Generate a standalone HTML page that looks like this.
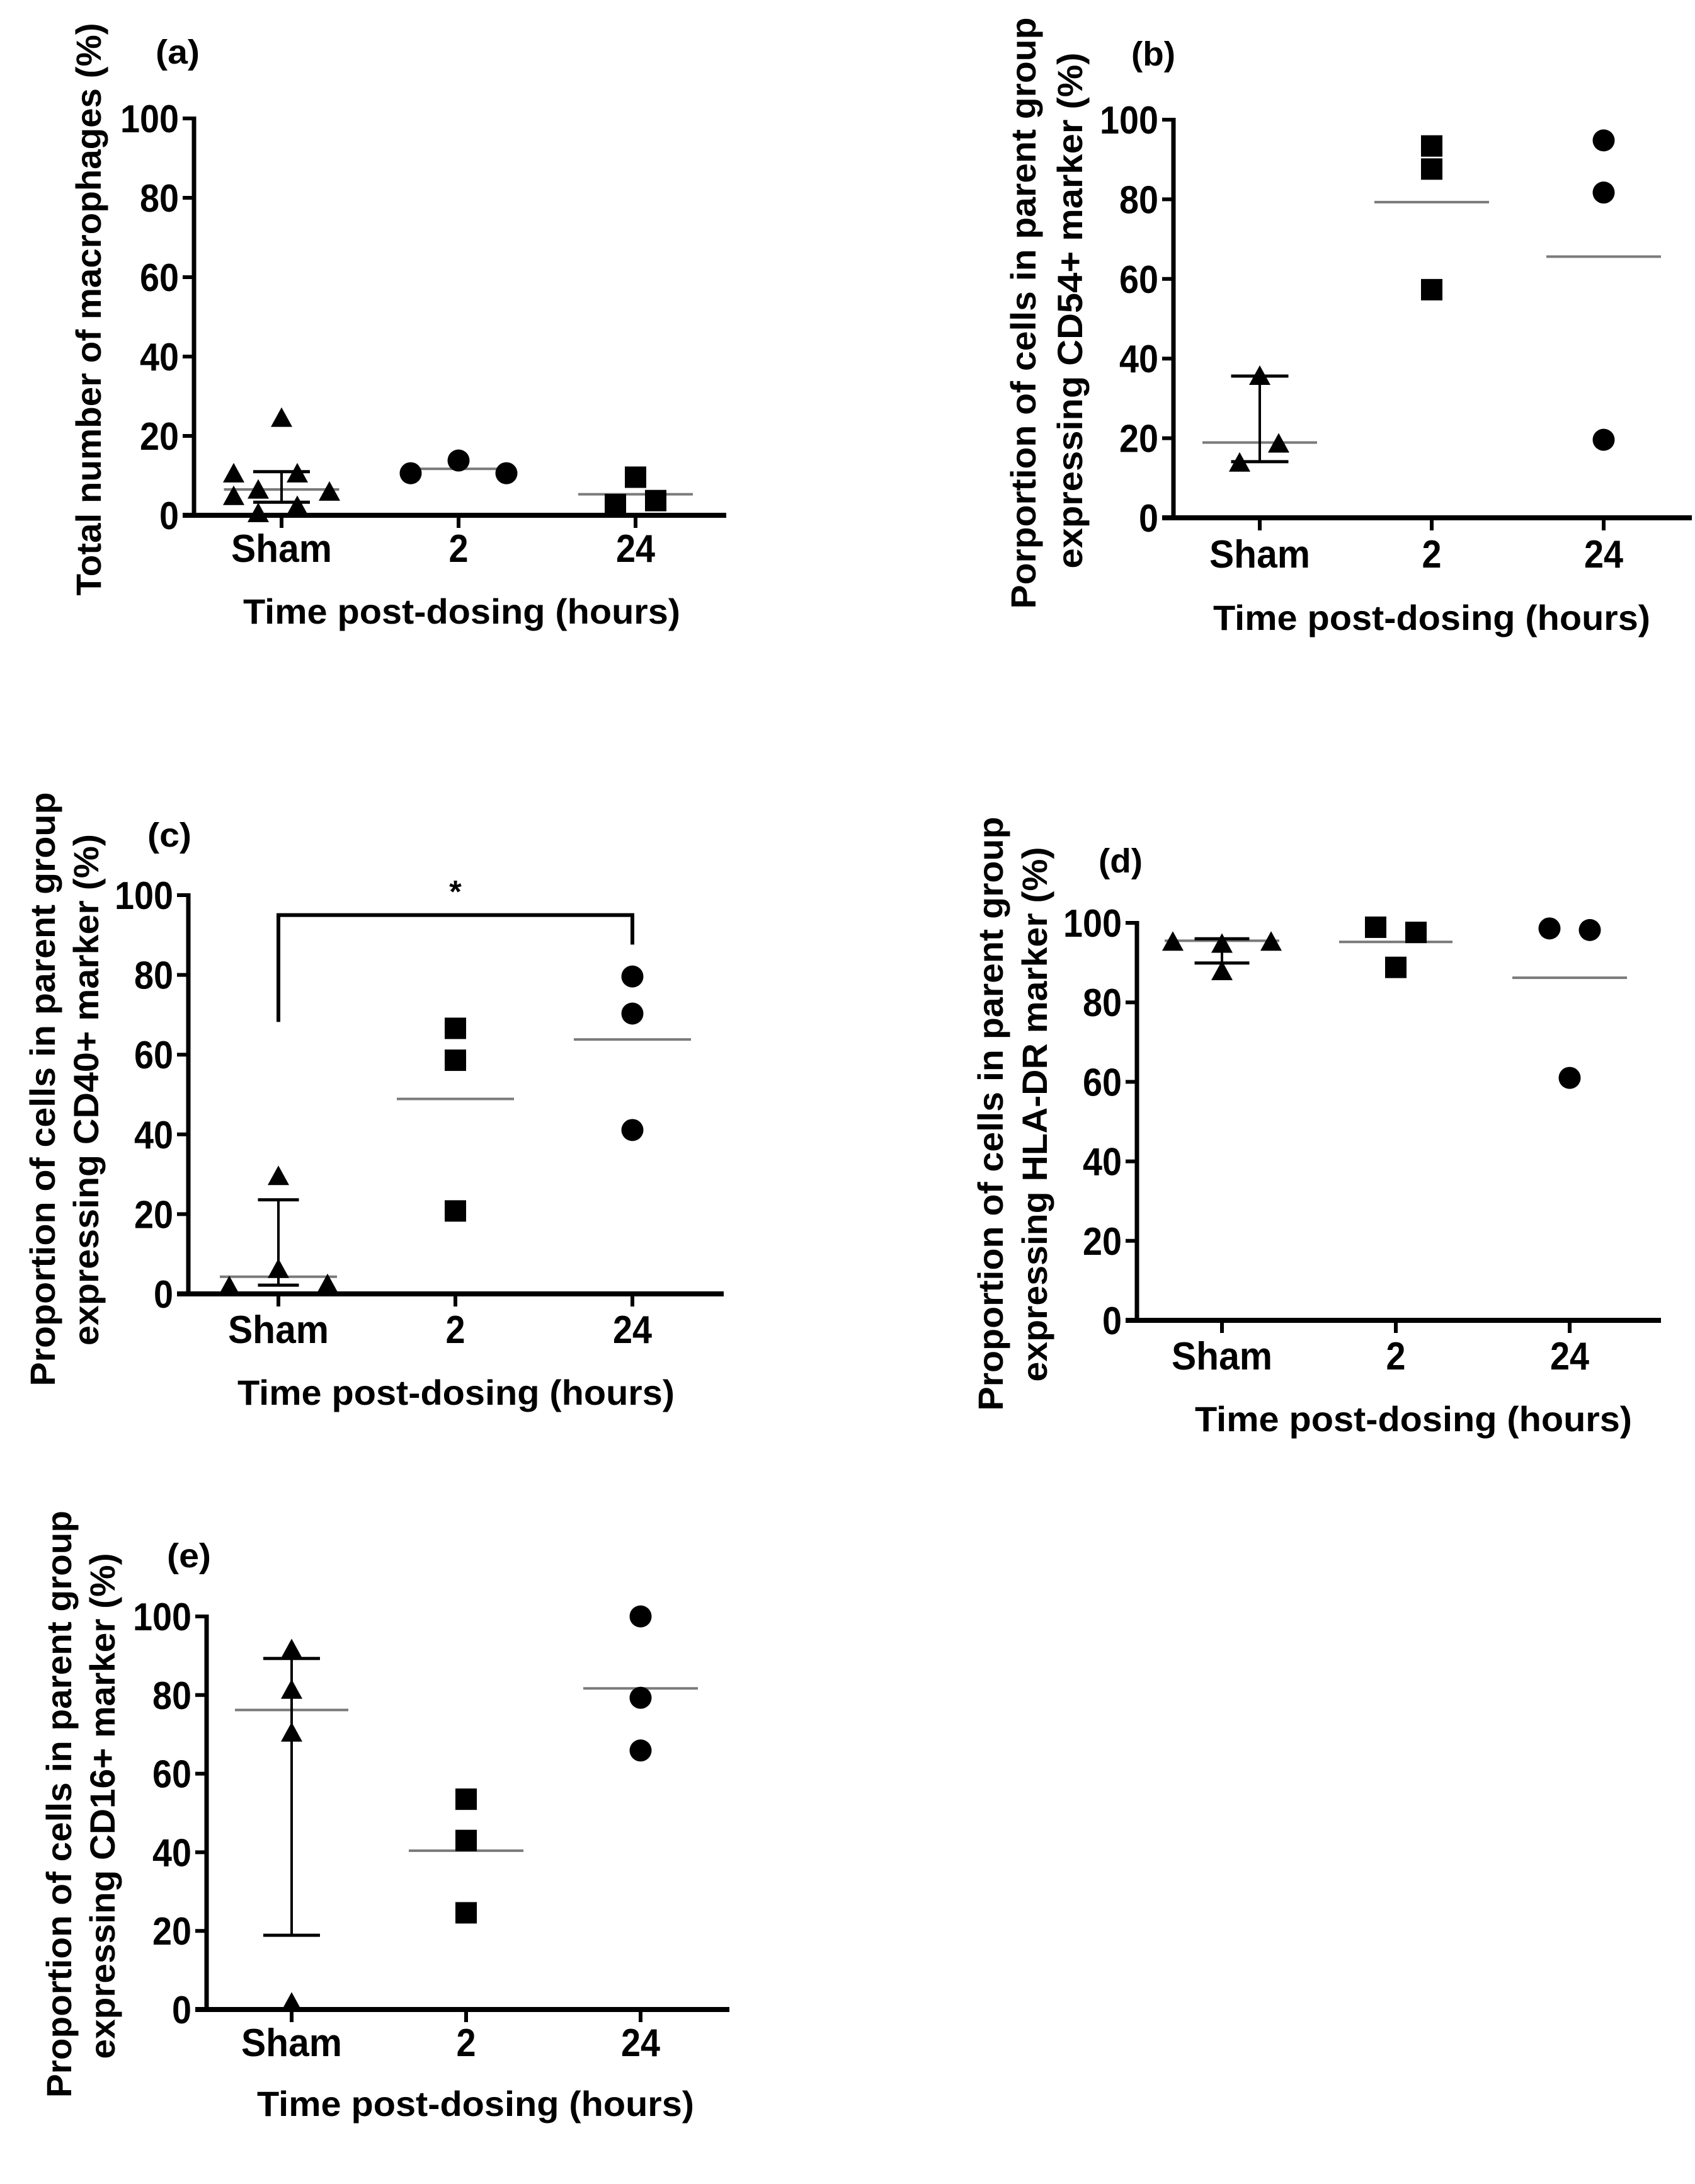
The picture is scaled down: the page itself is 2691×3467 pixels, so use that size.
<!DOCTYPE html>
<html><head><meta charset="utf-8"><style>
html,body{margin:0;padding:0;background:#fff;}
svg{display:block;}
text{font-family:"Liberation Sans",Arial,sans-serif;font-weight:bold;fill:#000;}
</style></head><body>
<svg id="fig" xmlns="http://www.w3.org/2000/svg" width="2691" height="3467" viewBox="0 0 2691 3467">
<rect x="0" y="0" width="2691" height="3467" fill="#fff"/>
</svg>
<script>
// ---- shared axis data ----
const categories = ["Sham", "2", "24"];
const yTicks = [0, 20, 40, 60, 80, 100];
const yTickLabels = ["0", "20", "40", "60", "80", "100"];

// ---- panel (a) ----
const aSham = [10.5, 4.8, 6.4, 0.5, 24.5, 10.5, 2.3, 5.9];
const aShamJitter = [-76, -76, -37, -37, 0, 25, 25, 76];
const a2 = [10.6, 13.8, 10.6];
const a2Jitter = [-76, 0, 76];
const a24 = [2.7, 9.6, 3.7];
const a24Jitter = [-32, 0, 32];
const aCenter = [6.5, 11.7, 5.3];
const aShamErr = [3.3, 11];

// ---- panel (b) ----
const bSham = [35.6, 18.6, 13.8];
const bShamJitter = [0, 30, -32];
const b2 = [93.4, 87.6, 57.3];
const b24 = [94.8, 81.7, 19.6];
const bCenter = [18.9, 79.3, 65.6];
const bShamErr = [14.1, 35.6];

// ---- panel (c) ----
const cSham = [1.9, 29.5, 6.2, 2.4];
const cShamJitter = [-78, 0, 0, 78];
const c2 = [66.6, 58.6, 20.8];
const c24 = [79.6, 70.3, 41.1];
const cCenter = [4.3, 48.9, 63.8];
const cShamErr = [2.2, 23.6];
const cBracket = [95, 68.2, 87.6];

// ---- panel (d) ----
const dSham = [95.2, 94.7, 87.8, 95.2];
const dShamJitter = [-78, 0, 0, 78];
const d2 = [98.9, 97.6, 88.8];
const d2Jitter = [-32, 32, 0];
const d24 = [98.6, 98.2, 61];
const d24Jitter = [-32, 32, 0];
const dCenter = [95.5, 95.2, 86.2];
const dShamErr = [89.9, 96];

// ---- panel (e) ----
const eSham = [91.6, 81.3, 70.4, 1.7];
const e2 = [53.5, 43, 24.6];
const e24 = [100, 79.3, 65.9];
const eCenter = [76.2, 40.4, 81.7];
const eShamErr = [18.9, 89.3];

const NS = "http://www.w3.org/2000/svg";
const svg = document.getElementById("fig");
function mk(tag, attrs, parent) {
  const el = document.createElementNS(NS, tag);
  for (const k in attrs) el.setAttribute(k, attrs[k]);
  (parent || svg).appendChild(el);
  return el;
}
function txt(s, attrs, parent) {
  const t = mk("text", attrs, parent);
  t.textContent = s;
  return t;
}

const panels = [
  {id:"a", letter:"(a)", lx:247, ly:101, ax:308, y0:818, y100:188, xEnd:1153, c0:447, dc:281,
   tickBase:892, xTitleX:386, xTitleBase:990,
   yTitles:[{s:"Total number of macrophages (%)", bx:160, cy:491, len:909}],
   series:[[aSham,aShamJitter,"tri"],[a2,a2Jitter,"circ"],[a24,a24Jitter,"sq"]],
   centers:aCenter, centerW:[183,152,182], err:aShamErr, cap:90},
  {id:"b", letter:"(b)", lx:1796, ly:104, ax:1863, y0:822, y100:190, xEnd:2686, c0:2000, dc:273,
   tickBase:901, xTitleX:1926, xTitleBase:1000,
   yTitles:[{s:"Porportion of cells in parent group", bx:1644, cy:497, len:939},
            {s:"expressing CD54+ marker (%)", bx:1718, cy:493, len:819}],
   series:[[bSham,bShamJitter,"tri"],[b2,null,"sq"],[b24,null,"circ"]],
   centers:bCenter, centerW:[182,182,182], err:bShamErr, cap:91},
  {id:"c", letter:"(c)", lx:234, ly:1344, ax:299, y0:2054, y100:1421, xEnd:1149, c0:442, dc:281,
   tickBase:2132, xTitleX:377, xTitleBase:2230,
   yTitles:[{s:"Proportion of cells in parent group", bx:87, cy:1729, len:943},
            {s:"expressing CD40+ marker (%)", bx:156, cy:1730, len:812}],
   series:[[cSham,cShamJitter,"tri"],[c2,null,"sq"],[c24,null,"circ"]],
   centers:cCenter, centerW:[186,186,186], err:cShamErr, cap:65, bracket:cBracket},
  {id:"d", letter:"(d)", lx:1744, ly:1385, ax:1805, y0:2096, y100:1465, xEnd:2637, c0:1940, dc:276,
   tickBase:2174, xTitleX:1897, xTitleBase:2272,
   yTitles:[{s:"Proportion of cells in parent group", bx:1592, cy:1768, len:943},
            {s:"expressing HLA-DR marker (%)", bx:1662, cy:1769, len:849}],
   series:[[dSham,dShamJitter,"tri"],[d2,d2Jitter,"sq"],[d24,d24Jitter,"circ"]],
   centers:dCenter, centerW:[182,180,182], err:dShamErr, cap:87},
  {id:"e", letter:"(e)", lx:265, ly:2488, ax:328, y0:3190, y100:2566, xEnd:1158, c0:463, dc:277,
   tickBase:3264, xTitleX:408, xTitleBase:3359,
   yTitles:[{s:"Proportion of cells in parent group", bx:113, cy:2864, len:932},
            {s:"expressing CD16+ marker (%)", bx:182, cy:2867, len:803}],
   series:[[eSham,null,"tri"],[e2,null,"sq"],[e24,null,"circ"]],
   centers:eCenter, centerW:[180,182,182], err:eShamErr, cap:90}
];

function drawMarker(g, kind, cx, cy) {
  let m;
  if (kind === "tri") {
    m = mk("polygon", {points:(cx-17)+","+(cy+14)+" "+(cx+17)+","+(cy+14)+" "+cx+","+(cy-17), fill:"#000"}, g);
    
  } else if (kind === "sq") {
    m = mk("rect", {x:cx-17, y:cy-17, width:34, height:34, fill:"#000"}, g);
    
  } else {
    m = mk("circle", {cx:cx, cy:cy, r:17.5, fill:"#000"}, g);
    
  }
  
}

panels.forEach(p => {
  const g = mk("g", {});
  
  
  const yS = v => p.y0 - (v / 100) * (p.y0 - p.y100);
  const xS = i => p.c0 + i * p.dc;

  const lab = txt(p.letter, {x:p.lx, y:p.ly, "font-size":54, textLength:70, lengthAdjust:"spacingAndGlyphs"}, g);
  
  

  const ya = mk("line", {x1:p.ax, y1:p.y0 + 3, x2:p.ax, y2:p.y100 - 3, stroke:"#000", "stroke-width":7}, g);
  
  
  yTicks.forEach((v, i) => {
    const t = mk("line", {x1:p.ax - 18, y1:yS(v), x2:p.ax, y2:yS(v), stroke:"#000", "stroke-width":6}, g);
    
    
    const s = yTickLabels[i];
    const l = txt(s, {x:p.ax - 24, y:yS(v) + 22, "font-size":62, "text-anchor":"end", textLength:31 * s.length, lengthAdjust:"spacingAndGlyphs"}, g);
    
    
  });
  const xa = mk("line", {x1:p.ax - 18, y1:p.y0, x2:p.xEnd, y2:p.y0, stroke:"#000", "stroke-width":8}, g);
  
  
  categories.forEach((c, i) => {
    const t = mk("line", {x1:xS(i), y1:p.y0, x2:xS(i), y2:p.y0 + 20, stroke:"#000", "stroke-width":6}, g);
    
    
    const w = c === "Sham" ? 160 : 31 * c.length;
    const l = txt(c, {x:xS(i), y:p.tickBase, "font-size":62, "text-anchor":"middle", textLength:w, lengthAdjust:"spacingAndGlyphs"}, g);
    
    
  });
  const xt = txt("Time post-dosing (hours)", {x:p.xTitleX, y:p.xTitleBase, "font-size":56, textLength:694, lengthAdjust:"spacingAndGlyphs"}, g);
  
  
  p.yTitles.forEach(yt => {
    const t = txt(yt.s, {x:0, y:0, "font-size":56, "text-anchor":"middle", textLength:yt.len, lengthAdjust:"spacingAndGlyphs",
      transform:"translate(" + yt.bx + "," + yt.cy + ") rotate(-90)"}, g);
    
    
  });

  p.centers.forEach((v, i) => {
    const w = p.centerW[i];
    const l = mk("line", {x1:xS(i) - w / 2, y1:yS(v), x2:xS(i) + w / 2, y2:yS(v), stroke:"#7a7a7a", "stroke-width":4}, g);
    
    
  });

  p.series.forEach((s, i) => {
    const vals = s[0], jit = s[1];
    vals.forEach((v, k) => {
      drawMarker(g, s[2], xS(i) + (jit ? jit[k] : 0), yS(v));
    });
  });

  const eb = mk("g", {}, g);
  
  
  const cx = xS(0);
  mk("line", {x1:cx, y1:yS(p.err[0]), x2:cx, y2:yS(p.err[1]), stroke:"#000", "stroke-width":4}, eb);
  mk("line", {x1:cx - p.cap / 2, y1:yS(p.err[0]), x2:cx + p.cap / 2, y2:yS(p.err[0]), stroke:"#000", "stroke-width":5}, eb);
  mk("line", {x1:cx - p.cap / 2, y1:yS(p.err[1]), x2:cx + p.cap / 2, y2:yS(p.err[1]), stroke:"#000", "stroke-width":5}, eb);

  if (p.bracket) {
    const b = p.bracket;
    const br = mk("polyline", {points: xS(0) + "," + yS(b[1]) + " " + xS(0) + "," + yS(b[0]) + " " + xS(2) + "," + yS(b[0]) + " " + xS(2) + "," + yS(b[2]),
      fill:"none", stroke:"#000", "stroke-width":6}, g);
    
    
    const st = txt("*", {x:xS(1), y:yS(b[0]) - 20, "font-size":50, "font-weight":"normal", "text-anchor":"middle"}, g);
    
    
  }
});
</script>
</body></html>
